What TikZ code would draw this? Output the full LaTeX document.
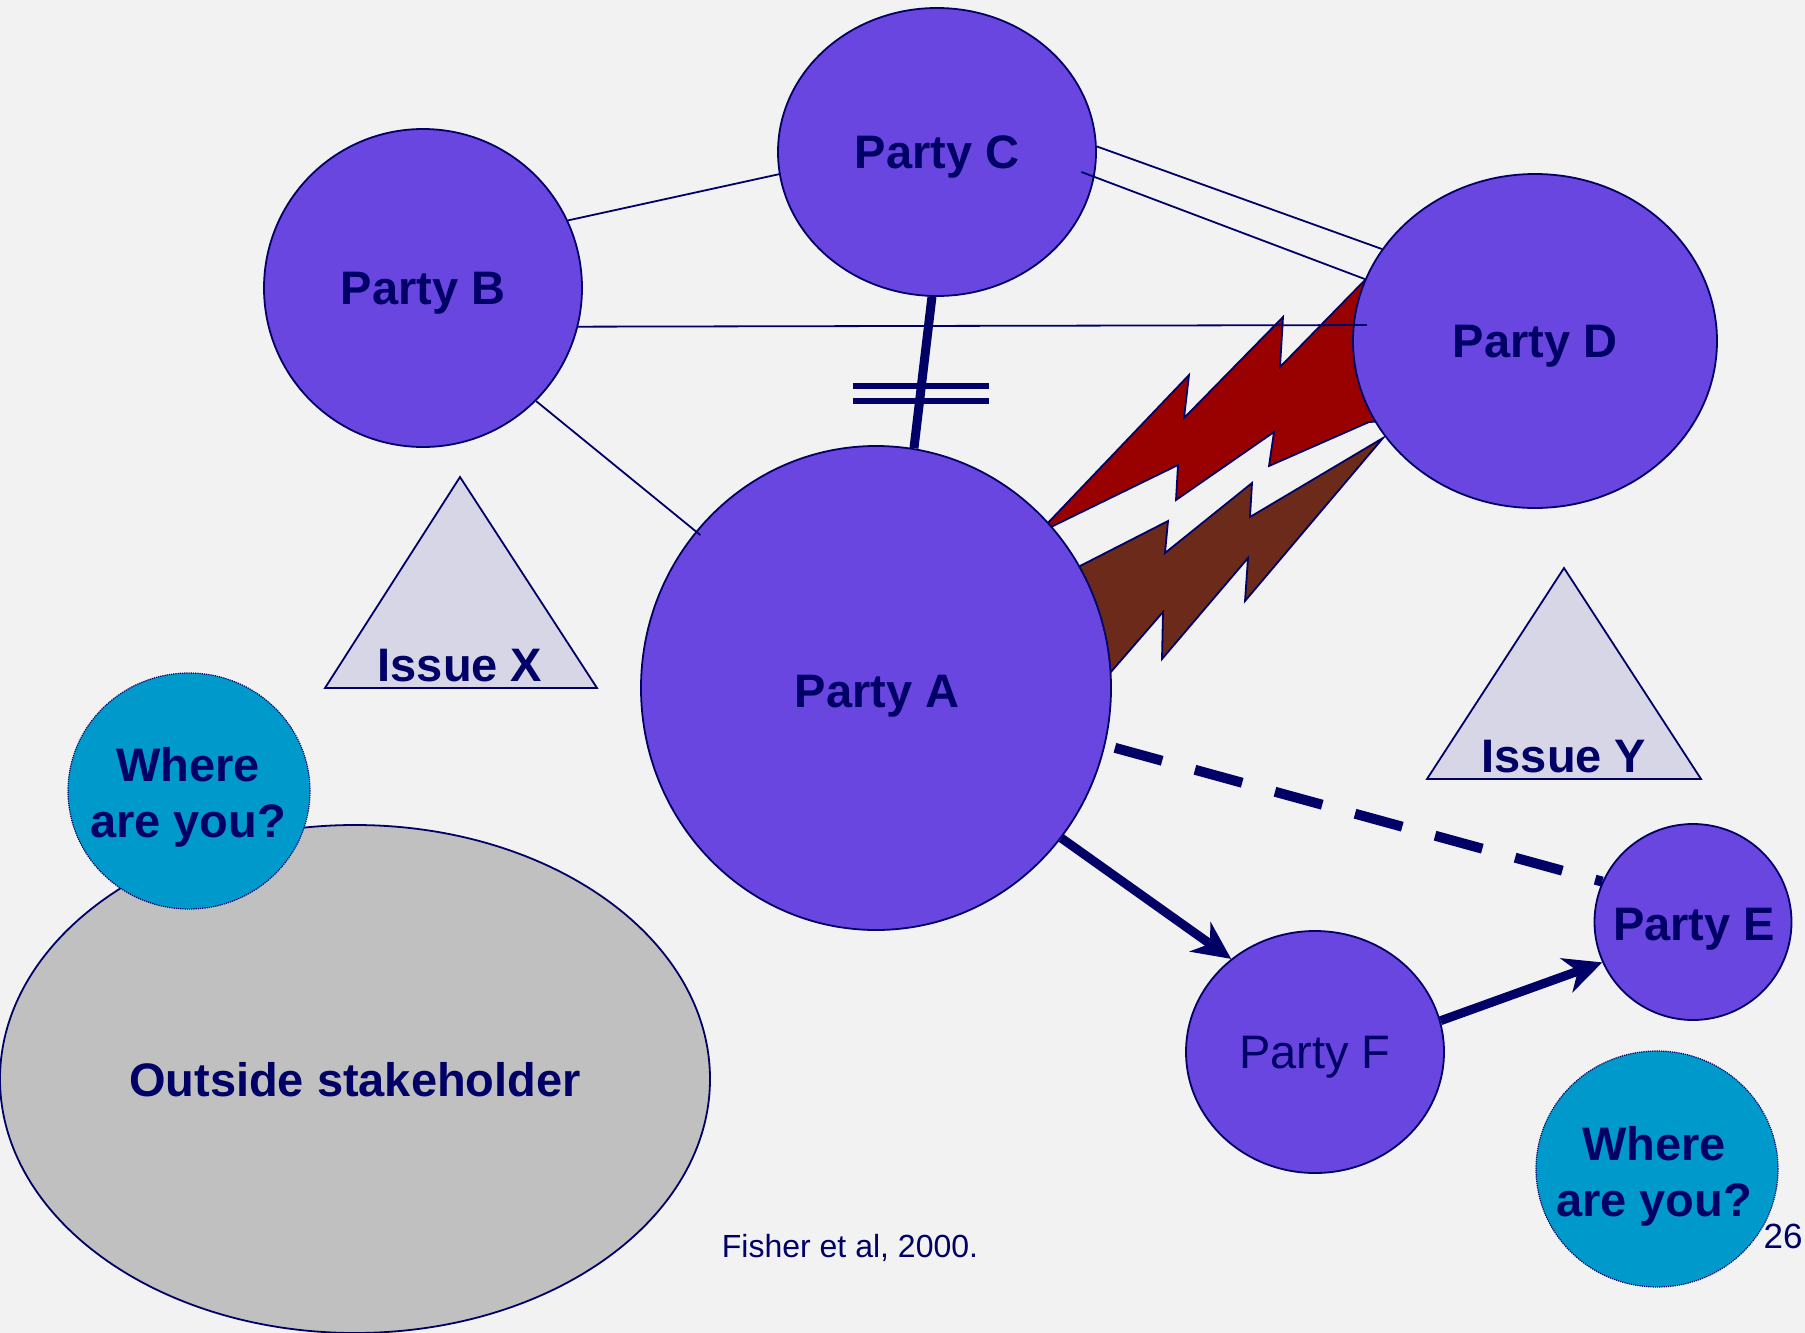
\documentclass[tikz,border=0pt]{standalone}
\usepackage{fontspec}
\setmainfont{Liberation Sans}
\usetikzlibrary{shapes.geometric,arrows.meta,calc}
\definecolor{bg}{HTML}{F2F2F2}
\definecolor{navy}{HTML}{000066}
\definecolor{purp}{HTML}{6A46E0}
\definecolor{tealc}{HTML}{0099CC}
\definecolor{grayfill}{HTML}{C0C0C0}
\definecolor{trifill}{HTML}{D6D6E6}
\definecolor{boltred}{HTML}{990000}
\definecolor{boltbrown}{HTML}{6C2A1A}
\begin{document}
\begin{tikzpicture}[x=1pt,y=-1pt,
  bigfont/.style={font=\fontsize{47}{56}\selectfont\bfseries},
  party/.style={ellipse, draw=navy, line width=1.8pt, fill=purp, inner sep=0pt, text=navy, text depth=0pt, bigfont},
  where/.style={ellipse, draw=navy, line width=1.2pt, densely dotted, fill=tealc, inner sep=0pt},
  outside/.style={ellipse, draw=navy, line width=1.8pt, fill=grayfill, inner sep=0pt, text=navy, text depth=0pt, bigfont},
  tri/.style={draw=navy, line width=1.8pt, fill=trifill, line join=miter},
  bolt/.style={draw=navy, line width=1.8pt, line join=miter},
  thinline/.style={draw=navy, line width=1.8pt},
  thickline/.style={draw=navy, line width=9pt},
  barline/.style={draw=navy, line width=6pt},
  dashline/.style={draw=navy, line width=10pt, dash pattern=on 49pt off 34pt, dash phase=73pt},
  arr/.style={draw=navy, line width=9pt, -{Stealth[length=38pt,width=36pt,inset=12pt]}},
  lbl/.style={text=navy, inner sep=0pt, text depth=0pt, align=center, bigfont},
  small/.style={text=navy, inner sep=0pt, font=\fontsize{32}{38}\selectfont}
]
\useasboundingbox (0,0) rectangle (1805,1333);
\fill[bg] (0,0) rectangle (1805,1333);

% outside stakeholder and the first question circle
\node[outside, minimum width=710pt, minimum height=508pt] (O) at (355,1079) {Outside stakeholder};
\node[where, minimum width=242pt, minimum height=236pt] (W1) at (189,791) {};
\node[lbl] (W1t) at (188,792) {Where\\are you?};

% lightning bolts (drawn beneath parties A and D)
\draw[bolt, fill=boltred] (1044,527) -- (1189,375) -- (1184,418) -- (1283,317) -- (1280,367)
  -- (1365,280) -- (1405,300) -- (1405,420) -- (1369,422) -- (1269,466) -- (1274,432)
  -- (1176,500) -- (1178,465) -- (1051,527) -- cycle;
\draw[bolt, fill=boltbrown] (1080,566) -- (1168,521) -- (1165,553) -- (1252,483) -- (1250,517)
  -- (1383,438) -- (1245,601) -- (1248,558) -- (1162,659) -- (1163,612) -- (1110,673)
  -- (1060,620) -- cycle;

% parties
\node[party, minimum width=318pt, minimum height=288pt] (C) at (937,152) {Party C};
\node[party, minimum width=318pt, minimum height=318pt] (B) at (423,288) {Party B};
\node[party, minimum width=364pt, minimum height=334pt] (D) at (1535,341) {Party D};
\node[party, minimum width=470pt, minimum height=484pt] (A) at (876,688) {};
\node[lbl] (At) at (877,691) {Party A};
\node[party, minimum width=197pt, minimum height=196pt] (E) at (1693,922) {};
\node[lbl] (Et) at (1694,924) {Party E};
\node[party, font=\fontsize{47}{56}\selectfont, minimum width=258pt, minimum height=242pt] (F) at (1315,1052) {Party F};
\node[where, minimum width=242pt, minimum height=236pt] (W2) at (1657,1169) {};
\node[lbl] (W2t) at (1654,1171) {Where\\are you?};

% issues
\draw[tri] (460,477) coordinate (X1) -- (597,688) coordinate (X2) -- (325,688) coordinate (X3) -- cycle;
\node[lbl] (IX) at (460,665) {Issue X};
\draw[tri] (1564,568) coordinate (Y1) -- (1701,779) coordinate (Y2) -- (1427,779) coordinate (Y3) -- cycle;
\node[lbl] (IY) at (1564,756) {Issue Y};

% thin relations
\draw[thinline] (B.25) -- (C.188);
\draw[thinline] (C.2.5) -- (D.149);
\draw[thinline, shorten <=-14pt] (C.-9) -- (D.160);
\draw[thinline, shorten >=-14pt] (B.-14) -- (D.175);
\draw[thinline, shorten >=-6pt] (B.-45) -- (A.139);

% broken relation C-A
\draw[thickline] (C.268) -- (A.81);
\coordinate (m) at ($(C.268)!0.6!(A.81)$);
\draw[barline] ([shift={(-68,-2)}]m) -- ([shift={(68,-2)}]m);
\draw[barline] ([shift={(-68,13)}]m) -- ([shift={(68,13)}]m);

% dashed and directed relations
\draw[dashline] (A.-14) -- (E.156);
\draw[arr] (A.-39) -- (F.132);
\draw[arr] (F.14) -- (E.204);

% captions
\node[small] (src) at (850,1248) {Fisher et al, 2000.};
\node[text=navy, inner sep=0pt, font=\fontsize{35}{42}\selectfont] (pg) at (1783,1236) {26};
\end{tikzpicture}
\end{document}
